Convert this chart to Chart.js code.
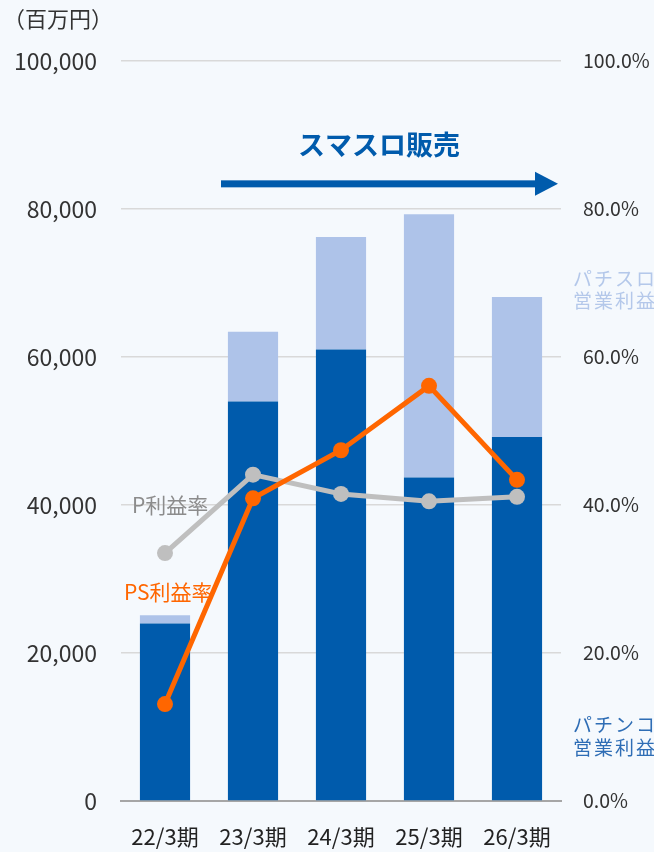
<!DOCTYPE html>
<html><head><meta charset="utf-8">
<script src="https://cdn.jsdelivr.net/npm/chart.js@4.4.1/dist/chart.umd.min.js"></script>
<style>
html,body{margin:0;padding:0;background:#F5F9FD;}
#wrap{width:654px;height:852px;position:relative;}
</style></head>
<body><div id="wrap"><canvas id="c" width="654" height="852"></canvas></div>
<script>
const categories = ['22/3期','23/3期','24/3期','25/3期','26/3期'];
const pachinkoProfit = [24000, 54000, 61000, 43700, 49200];
const pachisloProfit = [1100, 9400, 15200, 35600, 18900];
const psMargin = [13.1, 40.9, 47.4, 56.1, 43.4];
const pMargin = [33.5, 44.1, 41.5, 40.5, 41.1];
const leftTicks = [0, 20000, 40000, 60000, 80000, 100000];
const rightTicks = [0, 20, 40, 60, 80, 100];

const FONT = '"Noto Sans CJK JP", "Noto Sans", sans-serif';
const DARK = '#005BAC', LIGHT = '#AEC3E9', ORANGE = '#FF6600', GRAY = '#BFBFBF';

const bgPlugin = {
  id: 'bg',
  beforeDraw(chart) {
    const ctx = chart.ctx;
    ctx.save();
    ctx.fillStyle = '#F5F9FD';
    ctx.fillRect(0, 0, chart.width, chart.height);
    ctx.restore();
  }
};

const annoPlugin = {
  id: 'anno',
  afterDraw(chart) {
    const ctx = chart.ctx;
    const ca = chart.chartArea;
    const yL = chart.scales.y;
    const x = chart.scales.x;
    ctx.save();
    // unit label
    ctx.font = '22px ' + FONT;
    ctx.fillStyle = '#333333';
    ctx.textAlign = 'left';
    ctx.textBaseline = 'middle';
    ctx.fillText('（百万円）', 3, 19);
    // arrow
    const ay = yL.getPixelForValue(83400);
    const ax0 = x.getPixelForValue(1) - 32;
    const ax1 = ca.right - 3;
    ctx.fillStyle = DARK;
    ctx.fillRect(ax0, ay - 3.5, ax1 - 20 - ax0, 7);
    ctx.beginPath();
    ctx.moveTo(ax1 - 23, ay - 12);
    ctx.lineTo(ax1, ay);
    ctx.lineTo(ax1 - 23, ay + 12);
    ctx.closePath();
    ctx.fill();
    // arrow title
    ctx.font = 'bold 27px ' + FONT;
    ctx.textAlign = 'center';
    ctx.fillText('スマスロ販売', 379, 145);
    // side labels
    ctx.font = '19px ' + FONT;
    ctx.textAlign = 'left';
    ctx.letterSpacing = '2px';
    ctx.fillStyle = '#B4C8EA';
    ctx.fillText('パチスロ', ca.right + 12, 279);
    ctx.fillText('営業利益', ca.right + 12, 301);
    ctx.fillStyle = '#2E6DB5';
    ctx.fillText('パチンコ', ca.right + 12, 725);
    ctx.fillText('営業利益', ca.right + 12, 748);
    ctx.letterSpacing = '0px';
    // line labels
    ctx.font = '21px ' + FONT;
    ctx.fillStyle = '#8C8C8C';
    ctx.fillText('P利益率', 132, 505);
    ctx.fillStyle = ORANGE;
    ctx.fillText('PS利益率', 124, 592);
    ctx.restore();
  }
};

new Chart(document.getElementById('c'), {
  data: {
    labels: categories,
    datasets: [
      { type: 'line', label: 'PS利益率', data: psMargin, yAxisID: 'y1', borderColor: ORANGE, backgroundColor: ORANGE,
        borderWidth: 5, pointRadius: 8, pointHoverRadius: 8, pointBackgroundColor: ORANGE, pointBorderWidth: 0, order: 0, tension: 0 },
      { type: 'line', label: 'P利益率', data: pMargin, yAxisID: 'y1', borderColor: GRAY, backgroundColor: GRAY,
        borderWidth: 5, pointRadius: 8, pointHoverRadius: 8, pointBackgroundColor: GRAY, pointBorderWidth: 0, order: 1, tension: 0 },
      { type: 'bar', label: 'パチンコ営業利益', data: pachinkoProfit, yAxisID: 'y', backgroundColor: DARK, stack: 's',
        categoryPercentage: 1, barPercentage: 0.57, order: 3 },
      { type: 'bar', label: 'パチスロ営業利益', data: pachisloProfit, yAxisID: 'y', backgroundColor: LIGHT, stack: 's',
        categoryPercentage: 1, barPercentage: 0.57, order: 3 }
    ]
  },
  options: {
    responsive: false,
    animation: false,
    layout: { padding: { top: 61, bottom: 0, left: 0, right: 0 } },
    plugins: { legend: { display: false }, tooltip: { enabled: false } },
    scales: {
      x: {
        stacked: true,
        grid: { display: false, drawTicks: false },
        border: { display: true, color: '#A6A6A6', width: 2 },
        ticks: { color: '#222222', font: { family: FONT, size: 22 }, padding: 22, maxRotation: 0, autoSkip: false },
        afterFit(s) { s.height = 51; }
      },
      y: {
        position: 'left',
        stacked: true,
        min: 0, max: 100000,
        afterBuildTicks(s) { s.ticks = leftTicks.map(v => ({ value: v })); },
        grid: { color: '#D9D9D9', lineWidth: 1.5, drawTicks: false },
        border: { display: false },
        ticks: { color: '#333333', font: { family: FONT, size: 23 }, padding: 24,
          callback: v => v.toLocaleString('en-US') },
        afterFit(s) { s.width = 121; }
      },
      y1: {
        position: 'right',
        min: 0, max: 100,
        afterBuildTicks(s) { s.ticks = rightTicks.map(v => ({ value: v })); },
        grid: { display: false, drawTicks: false },
        border: { display: false },
        ticks: { color: '#333333', font: { family: FONT, size: 19.5 }, padding: 22,
          callback: v => v.toFixed(1) + '%' },
        afterFit(s) { s.width = 93; }
      }
    }
  },
  plugins: [bgPlugin, annoPlugin]
});
</script></body></html>
